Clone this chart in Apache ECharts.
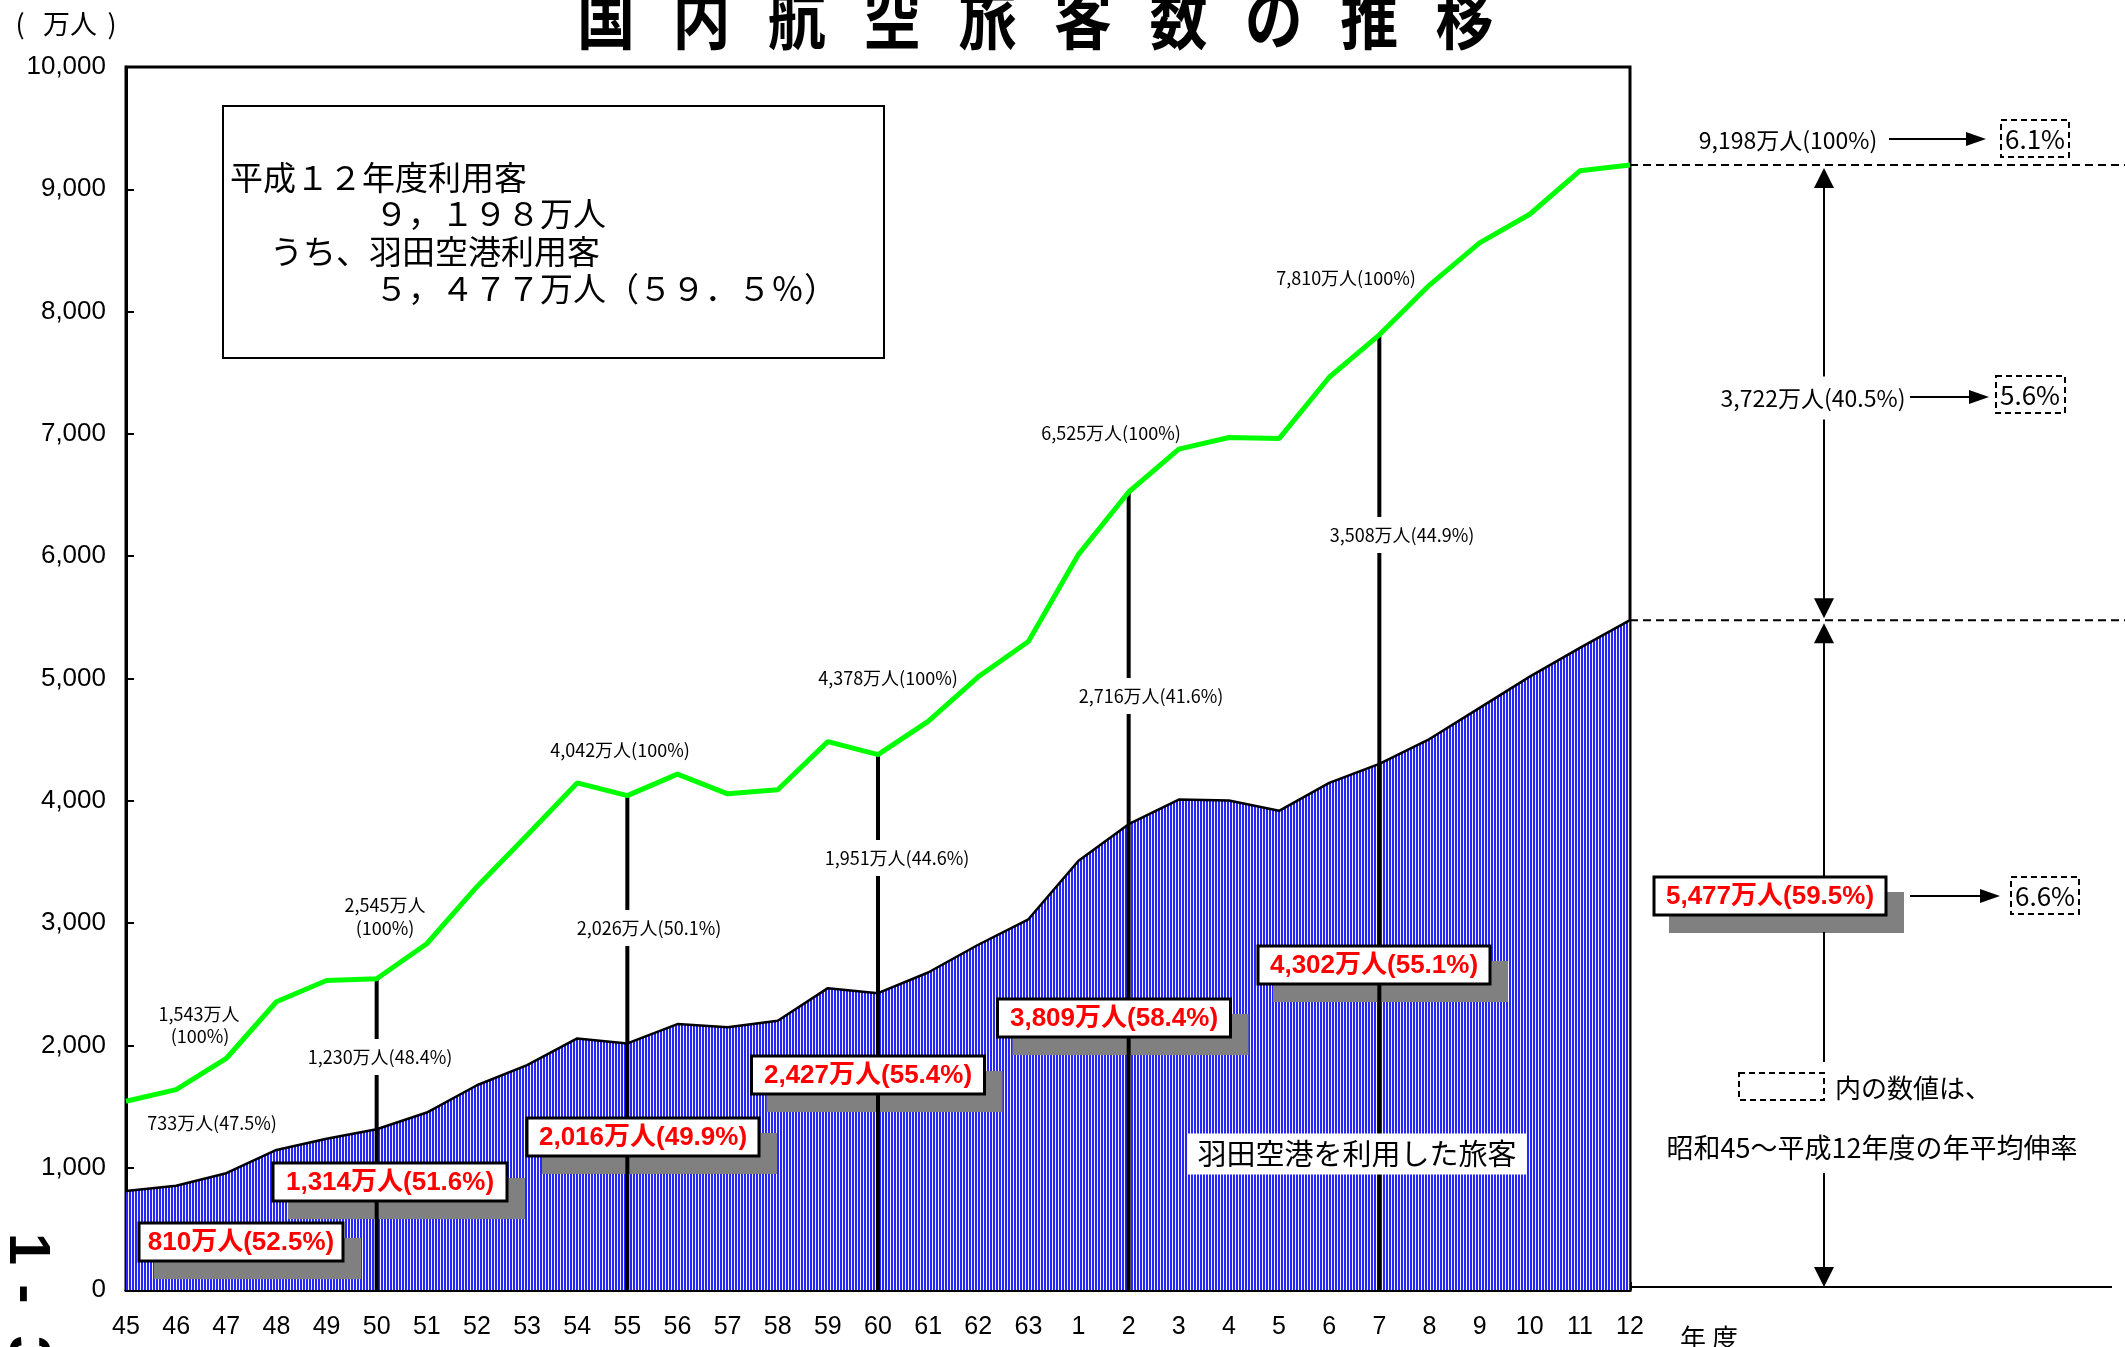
<!DOCTYPE html>
<html>
<head>
<meta charset="utf-8">
<title>国内航空旅客数の推移</title>
<script src="https://cdn.jsdelivr.net/npm/echarts@6/dist/echarts.min.js"></script>
<style>
  html, body { margin: 0; padding: 0; background: #fff; }
  #main { width: 2125px; height: 1347px; }
</style>
</head>
<body>
<div id="main"></div>
<script>
// 年度（昭和45～63、平成1～12）
var years = ['45', '46', '47', '48', '49', '50', '51', '52', '53', '54', '55', '56', '57', '58', '59', '60',
  '61', '62', '63', '1', '2', '3', '4', '5', '6', '7', '8', '9', '10', '11', '12'];
// 国内航空旅客数（万人）
var totalPax = [1543, 1638, 1893, 2357, 2531, 2545, 2831, 3298, 3718, 4146, 4042, 4218, 4057, 4090, 4484, 4378,
  4649, 5014, 5303, 6015, 6525, 6875, 6971, 6962, 7463, 7810, 8217, 8562, 8796, 9151, 9198];
// うち羽田空港利用客（万人）
var hanedaPax = [810, 853, 955, 1145, 1237, 1314, 1451, 1674, 1838, 2057, 2016, 2174, 2148, 2202, 2468, 2427,
  2596, 2823, 3031, 3510, 3809, 4010, 4003, 3918, 4146, 4302, 4505, 4760, 5015, 5250, 5477];
// 縦線を引く年度
var markedYears = ['50', '55', '60', '2', '7'];
var yMin = 0, yMax = 10000, yStep = 1000;

var JP = '"Noto Sans CJK JP", sans-serif';
var LAT = '"Liberation Sans", Arial, sans-serif';

// 縦縞パターン
var pat = document.createElement('canvas');
pat.width = 3; pat.height = 8;
var pctx = pat.getContext('2d');
pctx.fillStyle = '#2626fa';
pctx.fillRect(0, 0, 3, 8);
pctx.fillStyle = '#f4f4ff';
pctx.fillRect(2, 0, 1, 8);

var chart = echarts.init(document.getElementById('main'));

var option = {
  animation: false,
  grid: {
    left: 126, right: 495, top: 67, bottom: 57,
    show: true, borderColor: '#000', borderWidth: 3
  },
  xAxis: {
    type: 'category',
    data: years,
    boundaryGap: false,
    axisLine: { lineStyle: { color: '#000', width: 3 } },
    axisTick: { inside: true, length: 8, lineStyle: { color: '#000', width: 3 } },
    axisLabel: { interval: 0, color: '#000', fontSize: 25, fontFamily: LAT, margin: 25 },
    splitLine: { show: false }
  },
  yAxis: {
    type: 'value',
    min: yMin, max: yMax, interval: yStep,
    axisLine: { show: true, lineStyle: { color: '#000', width: 3 } },
    axisTick: { show: true, inside: true, length: 8, lineStyle: { color: '#000', width: 2 } },
    axisLabel: {
      color: '#000', fontSize: 26, fontFamily: LAT, margin: 20,
      formatter: function (v) { return v.toLocaleString('en-US'); }
    },
    splitLine: { show: false }
  },
  series: [
    {
      name: '羽田空港利用客',
      type: 'line',
      z: 1,
      data: hanedaPax,
      symbol: 'none',
      lineStyle: { color: '#000', width: 2.5 },
      areaStyle: { color: { image: pat, repeat: 'repeat' }, opacity: 1 }
    },
    {
      name: '縦線',
      type: 'bar',
      z: 3,
      barWidth: 4,
      itemStyle: { color: '#000' },
      data: years.map(function (y, i) { return markedYears.indexOf(y) >= 0 ? totalPax[i] : '-'; })
    },
    {
      name: '国内航空旅客数',
      type: 'line',
      z: 5,
      data: totalPax,
      symbol: 'none',
      lineStyle: { color: '#00ff00', width: 5 }
    }
  ]
};
chart.setOption(option);

// ---- 注記（ラベル・矢印など） ----
var noteLabels = [
  { text: '1,543万人', x: 199, y: 1014 },
  { text: '(100%)', x: 200, y: 1036 },
  { text: '733万人(47.5%)', x: 212, y: 1123 },
  { text: '2,545万人', x: 385, y: 905 },
  { text: '(100%)', x: 385, y: 928 },
  { text: '1,230万人(48.4%)', x: 380, y: 1057, cover: true },
  { text: '4,042万人(100%)', x: 620, y: 750 },
  { text: '2,026万人(50.1%)', x: 649, y: 928, cover: true },
  { text: '4,378万人(100%)', x: 888, y: 678 },
  { text: '1,951万人(44.6%)', x: 897, y: 858, cover: true },
  { text: '6,525万人(100%)', x: 1111, y: 433 },
  { text: '2,716万人(41.6%)', x: 1151, y: 696, cover: true },
  { text: '7,810万人(100%)', x: 1346, y: 278 },
  { text: '3,508万人(44.9%)', x: 1402, y: 535, cover: true }
];
var shareLabels = [
  { text: '810万人(52.5%)', x: 241, y: 1242, w: 204 },
  { text: '1,314万人(51.6%)', x: 390, y: 1182, w: 234 },
  { text: '2,016万人(49.9%)', x: 643, y: 1137, w: 232 },
  { text: '2,427万人(55.4%)', x: 868, y: 1075, w: 233 },
  { text: '3,809万人(58.4%)', x: 1114, y: 1018, w: 233 },
  { text: '4,302万人(55.1%)', x: 1374, y: 965, w: 232 },
  { text: '5,477万人(59.5%)', x: 1770, y: 896, w: 232 }
];
var summaryLines = [
  { text: '平成１２年度利用客', x: 230, y: 177 },
  { text: '９，１９８万人', x: 375, y: 213 },
  { text: 'うち、羽田空港利用客', x: 270, y: 251 },
  { text: '５，４７７万人（５９．５％）', x: 375, y: 288 }
];

function txt(text, x, y, font, extra) {
  var el = {
    type: 'text', z: 10, x: x, y: y,
    style: {
      text: text, x: 0, y: 0, fill: '#000', font: font,
      align: 'center', verticalAlign: 'middle',
      textAlign: 'center', textVerticalAlign: 'middle'
    }
  };
  if (extra) {
    for (var k in extra) { el.style[k] = extra[k]; }
  }
  return el;
}
function line(x1, y1, x2, y2, w, dash, z) {
  return {
    type: 'line', z: z || 8,
    shape: { x1: x1, y1: y1, x2: x2, y2: y2 },
    style: { stroke: '#000', lineWidth: w, lineDash: dash || null }
  };
}
function tri(points) {
  return { type: 'polygon', z: 9, shape: { points: points }, style: { fill: '#000' } };
}
function dashBox(x, y, w, h) {
  return {
    type: 'rect', z: 9,
    shape: { x: x, y: y, width: w, height: h },
    style: { fill: 'rgba(0,0,0,0)', stroke: '#000', lineWidth: 2, lineDash: [6, 4] }
  };
}

var g = [];

// タイトル
var titleText = '国内航空旅客数の推移';
for (var i = 0; i < titleText.length; i++) {
  var t = txt(titleText[i], 606 + i * 95.4, 18, 'bold 58px ' + JP);
  t.scaleY = 1.2;
  g.push(t);
}
// 単位
g.push(txt('(', 20, 24, '27px ' + JP));
g.push(txt('万人', 70, 24, '27px ' + JP));
g.push(txt(')', 112, 24, '27px ' + JP));
g.push(txt('年 度', 1709, 1338, '26px ' + JP));

// ページ番号
[['1', 26, 1249], ['-', 24, 1294], ['3', 26, 1352]].forEach(function (p) {
  var e = txt(p[0], p[1], p[2], 'bold 58px ' + LAT);
  e.rotation = -Math.PI / 2;
  g.push(e);
});

// 左上の枠
g.push({
  type: 'rect', z: 9,
  shape: { x: 223, y: 106, width: 661, height: 252 },
  style: { fill: '#fff', stroke: '#000', lineWidth: 2 }
});
summaryLines.forEach(function (s) {
  g.push(txt(s.text, s.x, s.y, '33px ' + JP, { align: 'left', textAlign: 'left' }));
});

// 黒ラベル
noteLabels.forEach(function (n) {
  var extra = n.cover ? { backgroundColor: '#fff', padding: [9, 3] } : null;
  g.push(txt(n.text, n.x, n.y, '18px ' + JP, extra));
});

// 赤ラベル（影付き枠）
shareLabels.forEach(function (s) {
  var bx = s.x - s.w / 2, by = s.y - 19;
  g.push({ type: 'rect', z: 2, shape: { x: bx + 15, y: by + 15, width: s.w + 3, height: 41 }, style: { fill: '#808080' } });
  g.push({ type: 'rect', z: 9, shape: { x: bx, y: by, width: s.w, height: 38 }, style: { fill: '#fff', stroke: '#000', lineWidth: 3 } });
  g.push(txt(s.text, s.x, s.y + 1, 'bold 26px ' + LAT + ', ' + JP, { fill: '#ff0000' }));
});

// 凡例ラベル
g.push(txt('羽田空港を利用した旅客', 1357, 1154, '29px ' + JP, { backgroundColor: '#fff', padding: [6, 10] }));

// 右側の注記
var xR = chart.convertToPixel({ xAxisIndex: 0 }, years[years.length - 1]);
var yT = chart.convertToPixel({ yAxisIndex: 0 }, totalPax[totalPax.length - 1]);
var yH = chart.convertToPixel({ yAxisIndex: 0 }, hanedaPax[hanedaPax.length - 1]);
var y0 = chart.convertToPixel({ yAxisIndex: 0 }, 0);
var xA = 1824;

g.push(line(xR, yT, 2125, yT, 2, [8, 5]));
g.push(line(xR, yH, 2125, yH, 2, [8, 5]));
g.push(line(xR, y0 - 3, 2112, y0 - 3, 2));

// 上段の両矢印
g.push(line(xA, yT + 20, xA, yH - 20, 2));
g.push(tri([[xA, yT + 3], [xA - 10, yT + 23], [xA + 10, yT + 23]]));
g.push(tri([[xA, yH - 2], [xA - 10, yH - 22], [xA + 10, yH - 22]]));
// 下段の両矢印
g.push(line(xA, yH + 22, xA, 880, 2));
g.push(line(xA, 932, xA, 1062, 2));
g.push(line(xA, 1173, xA, y0 - 22, 2));
g.push(tri([[xA, yH + 3], [xA - 10, yH + 23], [xA + 10, yH + 23]]));
g.push(tri([[xA, y0 - 3], [xA - 10, y0 - 23], [xA + 10, y0 - 23]]));

// 右側ラベルと横矢印
g.push(txt('9,198万人(100%)', 1788, 140, '23px ' + JP));
g.push(line(1889, 139, 1967, 139, 2));
g.push(tri([[1986, 139], [1966, 132], [1966, 146]]));
g.push(dashBox(2001, 120, 68, 37));
g.push(txt('6.1%', 2035, 139, '26px ' + JP));

g.push(txt('3,722万人(40.5%)', 1813, 398, '23px ' + JP, { backgroundColor: '#fff', padding: [10, 2] }));
g.push(line(1910, 397, 1970, 397, 2));
g.push(tri([[1989, 397], [1969, 390], [1969, 404]]));
g.push(dashBox(1996, 376, 69, 37));
g.push(txt('5.6%', 2030, 395, '26px ' + JP));

g.push(line(1910, 896, 1981, 896, 2));
g.push(tri([[2000, 896], [1980, 889], [1980, 903]]));
g.push(dashBox(2011, 877, 68, 37));
g.push(txt('6.6%', 2045, 896, '26px ' + JP));

g.push(dashBox(1739, 1073, 85, 27));
g.push(txt('内の数値は、', 1835, 1088, '26px ' + JP, { align: 'left', textAlign: 'left' }));
g.push(txt('昭和45～平成12年度の年平均伸率', 1872, 1148, '27px ' + JP));

chart.setOption({ graphic: g });

window.addEventListener('resize', function () {
  chart.resize();
});
</script>
</body>
</html>
